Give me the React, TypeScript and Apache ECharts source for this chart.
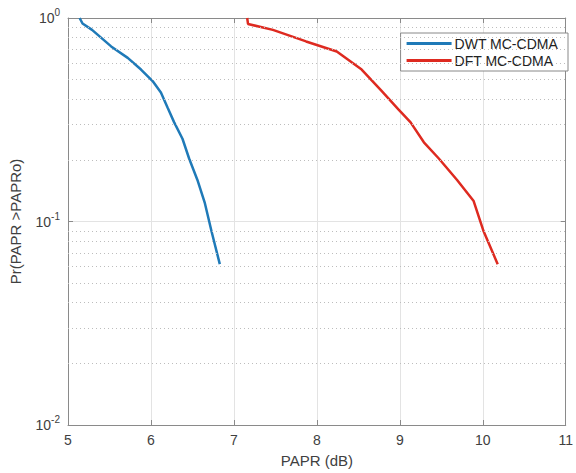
import React, { useEffect, useRef } from "react";
import * as echarts from "echarts";

const dwtX = [5.14, 5.175, 5.29, 5.52, 5.72, 5.88, 6.02, 6.12, 6.2, 6.28, 6.38, 6.46, 6.56, 6.65, 6.73, 6.83];
const dwtY = [1.0, 0.94, 0.874, 0.725, 0.637, 0.558, 0.49, 0.43, 0.363, 0.307, 0.255, 0.204, 0.16, 0.123, 0.0895, 0.0617];
const dftX = [7.16, 7.17, 7.47, 7.87, 8.24, 8.54, 8.78, 8.98, 9.13, 9.29, 9.47, 9.69, 9.89, 10.01, 10.18];
const dftY = [1.0, 0.935, 0.874, 0.767, 0.685, 0.558, 0.438, 0.357, 0.307, 0.245, 0.204, 0.16, 0.126, 0.0895, 0.0617];
const minorGrid = [0.02, 0.03, 0.04, 0.05, 0.06, 0.07, 0.08, 0.09, 0.2, 0.3, 0.4, 0.5, 0.6, 0.7, 0.8, 0.9];
const seriesNames = ["DWT MC-CDMA", "DFT MC-CDMA"];

const FONT = "Liberation Sans";
const AXIS = "#8a8a8a";

export default function App() {
  const ref = useRef<HTMLDivElement>(null);
  useEffect(() => {
    document.body.style.margin = "0";
    const chart = echarts.init(ref.current!, null, { renderer: "svg" });
    const yLabel = (v: number) => {
      const e = Math.round(Math.log10(v));
      return "{b|10}{s|" + e + "}";
    };
    const rich = {
      b: { fontSize: 14, fontFamily: FONT, color: "#404040" },
      s: { fontSize: 10, fontFamily: FONT, color: "#404040", verticalAlign: "top", padding: [0, 0, 11, 0] },
    };
    chart.setOption({
      animation: false,
      backgroundColor: "#fff",
      grid: { left: 66, top: 18, right: 6, bottom: 44 },
      legend: {
        data: seriesNames,
        orient: "vertical",
        right: 8,
        top: 33,
        itemWidth: 45,
        itemHeight: 3,
        itemGap: 2,
        icon: "rect",
        padding: [3, 10, 3, 6],
        borderColor: "#888",
        borderWidth: 1,
        backgroundColor: "#fff",
        textStyle: { fontFamily: FONT, fontSize: 14, lineHeight: 15, color: "#222", padding: [0, 0, 0, -2] },
      },
      xAxis: [
        {
          type: "value",
          min: 5,
          max: 11,
          interval: 1,
          name: "PAPR (dB)",
          nameLocation: "middle",
          nameGap: 28,
          nameTextStyle: { fontFamily: FONT, fontSize: 15, color: "#404040" },
          axisLine: { lineStyle: { color: AXIS } },
          axisTick: { inside: true, length: 5, lineStyle: { color: AXIS } },
          axisLabel: { fontFamily: FONT, fontSize: 14, color: "#404040", margin: 8 },
          splitLine: { show: true, lineStyle: { color: "#e3e3e3", width: 1 } },
        },
        {
          type: "value",
          min: 5,
          max: 11,
          interval: 1,
          position: "top",
          axisLine: { lineStyle: { color: AXIS } },
          axisTick: { inside: true, length: 5, lineStyle: { color: AXIS } },
          axisLabel: { show: false },
          splitLine: { show: false },
        },
      ],
      yAxis: [
        {
          type: "log",
          logBase: 10,
          min: 0.01,
          max: 1,
          name: "Pr(PAPR >PAPRo)",
          nameLocation: "middle",
          nameGap: 45,
          nameTextStyle: { fontFamily: FONT, fontSize: 15, color: "#404040" },
          axisLine: { lineStyle: { color: AXIS } },
          axisTick: { inside: true, length: 5, lineStyle: { color: AXIS } },
          axisLabel: { formatter: yLabel, rich, margin: 8 },
          splitLine: { show: true, lineStyle: { color: "#e3e3e3", width: 1 } },
        },
        {
          type: "log",
          logBase: 10,
          min: 0.01,
          max: 1,
          position: "right",
          axisLine: { show: true, lineStyle: { color: AXIS } },
          axisTick: { show: true, inside: true, length: 5, lineStyle: { color: AXIS } },
          axisLabel: { show: false },
          splitLine: { show: false },
        },
      ],
      series: [
        {
          name: "grid-minor",
          type: "line",
          data: [],
          silent: true,
          markLine: {
            silent: true,
            symbol: "none",
            label: { show: false },
            lineStyle: { type: [1, 3], color: "#bdbdbd", width: 1 },
            data: minorGrid.map((v) => ({ yAxis: v })),
          },
        },
        {
          name: seriesNames[0],
          type: "line",
          data: dwtX.map((x, i) => [x, dwtY[i]]),
          showSymbol: false,
          symbol: "none",
          lineStyle: { color: "#1f7ab8", width: 2.5 },
          itemStyle: { color: "#1f7ab8" },
          z: 3,
        },
        {
          name: seriesNames[1],
          type: "line",
          data: dftX.map((x, i) => [x, dftY[i]]),
          showSymbol: false,
          symbol: "none",
          lineStyle: { color: "#de2a20", width: 2.5 },
          itemStyle: { color: "#de2a20" },
          z: 3,
        },
      ],
    });
    return () => chart.dispose();
  }, []);
  return <div ref={ref} style={{ width: 576, height: 473 }} />;
}
